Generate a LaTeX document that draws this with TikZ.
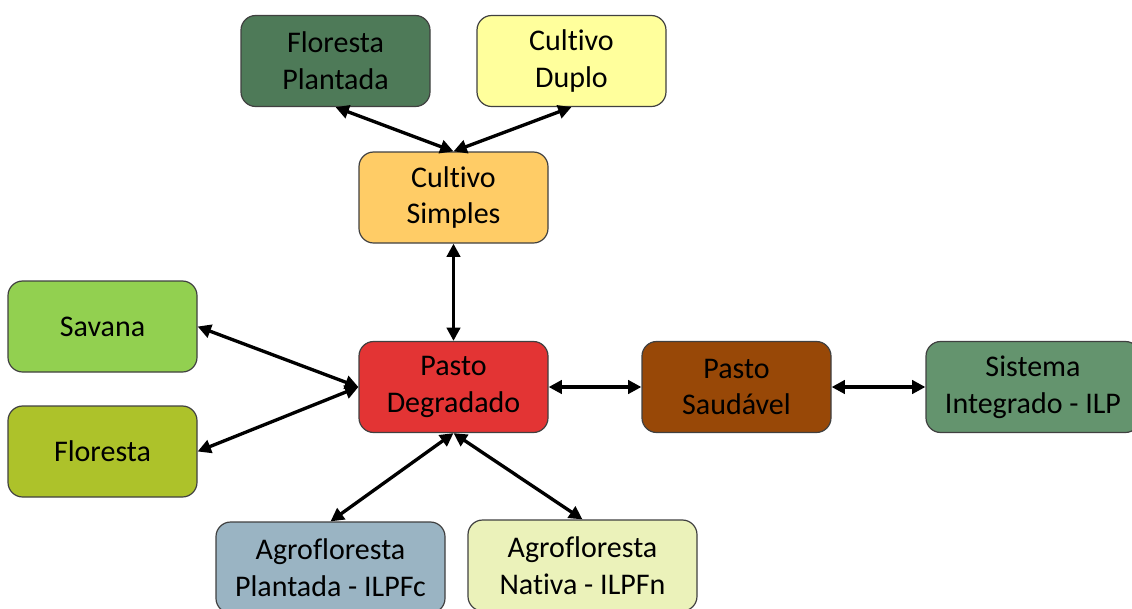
\documentclass[tikz,border=0pt]{standalone}
\usepackage{fontspec}
\setmainfont[Ligatures=NoCommon]{Carlito}
\usepackage{xcolor}
\usetikzlibrary{arrows.meta}

\definecolor{florplant}{HTML}{4E7A58}
\definecolor{cultduplo}{HTML}{FFFF9C}
\definecolor{cultsimp}{HTML}{FFCC66}
\definecolor{savana}{HTML}{92D050}
\definecolor{floresta}{HTML}{ADC22A}
\definecolor{pastodeg}{HTML}{E33434}
\definecolor{pastosaud}{HTML}{984807}
\definecolor{sistema}{HTML}{64946E}
\definecolor{agroplant}{HTML}{9AB4C3}
\definecolor{agronat}{HTML}{EBF2BA}

\begin{document}
\begin{tikzpicture}[x=0.75pt, y=-0.75pt,
  box/.style={rectangle, draw=black!75, line width=0.9pt, rounded corners=11pt,
    minimum width=141.75pt, minimum height=68.25pt, inner sep=0pt,
    font=\fontsize{22.5}{27.5}\selectfont, align=center},
  link/.style={<->, >={Triangle[length=10pt,width=10pt]}, line width=2.5pt}
]
  \useasboundingbox (0,0) rectangle (1132,608);

  \node[box, fill=florplant] (fp) at (335.5, 61) {Floresta\\Plantada};
  \node[box, fill=cultduplo] (cd) at (571.5, 61) {Cultivo\\Duplo};
  \node[box, fill=cultsimp] (cs) at (453.5, 197.5) {Cultivo\\Simples};
  \node[box, fill=savana] (sav) at (102.5, 326.5) {Savana};
  \node[box, fill=floresta] (flo) at (102.5, 451.5) {Floresta};
  \node[box, fill=pastodeg] (pd) at (453.5, 387) {Pasto\\Degradado};
  \node[box, fill=pastosaud] (ps) at (736.5, 387) {Pasto\\Saud\'avel};
  \node[box, fill=sistema, minimum width=160.5pt] (si) at (1033, 387)
    {Sistema\\Integrado - ILP};
  \node[box, fill=agroplant, minimum width=171.75pt] (ap) at (330.5, 567.5)
    {Agrofloresta\\Plantada - ILPFc};
  \node[box, fill=agronat, minimum width=171.75pt] (an) at (582.5, 565.5)
    {Agrofloresta\\Nativa - ILPFn};

  % ligacoes
  \draw[link] (fp.south) -- (cs.north);
  \draw[link] (cd.south) -- (cs.north);
  \draw[link] (cs.south) -- (pd.north);
  \draw[link] (sav.east) -- (pd.west);
  \draw[link] (flo.east) -- (pd.west);
  \draw[link] (pd.east) -- (ps.west);
  \draw[link] (ps.east) -- (si.west);
  \draw[link] (pd.south) -- (ap.north);
  \draw[link] (pd.south) -- (an.north);
\end{tikzpicture}
\end{document}
